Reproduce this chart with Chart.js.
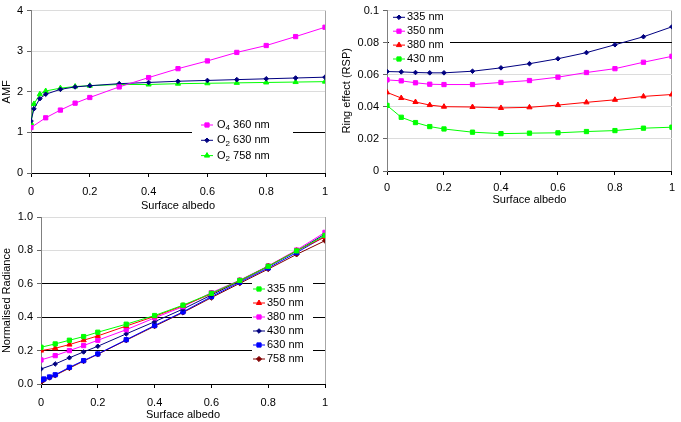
<!DOCTYPE html>
<html>
<head>
<meta charset="utf-8">
<script src="https://cdn.jsdelivr.net/npm/chart.js@4.4.0/dist/chart.umd.min.js"></script>
<style>
  html, body { margin: 0; padding: 0; background: #fff; }
  body { width: 681px; height: 422px; position: relative; overflow: hidden; }
  .box { position: absolute; }
</style>
</head>
<body>
<div class="box" style="left:0;top:0;width:340px;height:213px"><canvas id="amfChart"></canvas></div>
<div class="box" style="left:340px;top:0;width:341px;height:207px"><canvas id="ringChart"></canvas></div>
<div class="box" style="left:0;top:200px;width:340px;height:222px"><canvas id="radChart"></canvas></div>
<script>
// albedo grids used by the model runs
const albedoCoarse = [0, 0.05, 0.1, 0.15, 0.2, 0.3, 0.4, 0.5, 0.6, 0.7, 0.8, 0.9, 1];
const albedoFine = [0, 0.01, 0.03, 0.05, 0.1, 0.15, 0.2, 0.3, 0.4, 0.5, 0.6, 0.7, 0.8, 0.9, 1];

// tick labels
const xTickLabels = ['0', '0.2', '0.4', '0.6', '0.8', '1'];
const amfTickLabels = ['0', '1', '2', '3', '4'];
const ringTickLabels = ['0', '0.02', '0.04', '0.06', '0.08', '0.1'];
const radTickLabels = ['0.0', '0.2', '0.4', '0.6', '0.8', '1.0'];

// AMF
const amfLabels = ['O₄ 360 nm', 'O₂ 630 nm', 'O₂ 758 nm'];
const amfO4_360 = [1.12, 1.36, 1.55, 1.72, 1.86, 2.12, 2.35, 2.57, 2.76, 2.97, 3.14, 3.36, 3.59];
const amfO2_630 = [1.28, 1.58, 1.83, 1.94, 2.06, 2.12, 2.15, 2.20, 2.23, 2.26, 2.28, 2.30, 2.32, 2.34, 2.36];
const amfO2_758 = [1.23, 1.70, 1.94, 2.02, 2.09, 2.13, 2.15, 2.18, 2.18, 2.20, 2.21, 2.22, 2.23, 2.24, 2.25];

// Ring effect
const ringLabels = ['335 nm', '350 nm', '380 nm', '430 nm'];
const ring335 = [0.0620, 0.0618, 0.0614, 0.0612, 0.0612, 0.0622, 0.0643, 0.0669, 0.0700, 0.0738, 0.0787, 0.0837, 0.0899];
const ring350 = [0.0568, 0.0562, 0.0550, 0.0541, 0.0539, 0.0539, 0.0552, 0.0564, 0.0585, 0.0614, 0.0638, 0.0678, 0.0715];
const ring380 = [0.0490, 0.0455, 0.0430, 0.0411, 0.0401, 0.0399, 0.0393, 0.0397, 0.0411, 0.0428, 0.0444, 0.0465, 0.0477];
const ring430 = [0.0409, 0.0335, 0.0302, 0.0277, 0.0262, 0.0242, 0.0233, 0.0236, 0.0238, 0.0246, 0.0252, 0.0267, 0.0273];

// Normalised radiance
const radLabels = ['335 nm', '350 nm', '380 nm', '430 nm', '630 nm', '758 nm'];
const rad335 = [0.220, 0.240, 0.262, 0.284, 0.310, 0.358, 0.410, 0.472, 0.543, 0.620, 0.705, 0.797, 0.890];
const rad350 = [0.200, 0.214, 0.236, 0.262, 0.288, 0.347, 0.405, 0.469, 0.540, 0.619, 0.705, 0.798, 0.880];
const rad380 = [0.144, 0.170, 0.200, 0.230, 0.262, 0.325, 0.396, 0.463, 0.547, 0.622, 0.707, 0.802, 0.908];
const rad430 = [0.090, 0.120, 0.157, 0.192, 0.226, 0.300, 0.373, 0.449, 0.533, 0.617, 0.704, 0.796, 0.898];
const rad630 = [0.024, 0.030, 0.042, 0.055, 0.100, 0.140, 0.180, 0.265, 0.350, 0.432, 0.523, 0.610, 0.695, 0.787, 0.884];
const rad758 = [0.010, 0.025, 0.038, 0.052, 0.095, 0.137, 0.178, 0.262, 0.346, 0.428, 0.517, 0.603, 0.688, 0.776, 0.858];

const FONT = "'Liberation Sans', Arial, sans-serif";
Chart.defaults.font.family = FONT;
Chart.defaults.font.size = 11;
Chart.defaults.color = '#000';
Chart.defaults.animation = false;

const MAGENTA = '#ff00ff', NAVY = '#000080', GREEN = '#00ff00', RED = '#ff0000', BLUE = '#0000ff', MAROON = '#800000';

function pts(xs, ys) { return ys.map((y, i) => ({ x: xs[i], y: y })); }

function series(label, xs, ys, color, style, radius) {
    return {
        label: label, data: pts(xs, ys), showLine: true,
        borderColor: color, backgroundColor: color, borderWidth: 1,
        pointStyle: style, pointRadius: radius, pointBorderWidth: 1, pointHoverRadius: radius
    };
}

const SUBS = '₀₁₂₃₄₅₆₇₈₉';
function drawLabel(ctx, text, x, y) {
    ctx.fillStyle = '#000';
    for (const ch of text) {
        const k = SUBS.indexOf(ch);
        if (k >= 0) {
            ctx.font = '8px ' + FONT;
            ctx.fillText(String(k), x, y + 3);
            x += ctx.measureText(String(k)).width;
            ctx.font = '11px ' + FONT;
        } else {
            ctx.fillText(ch, x, y);
            x += ctx.measureText(ch).width;
        }
    }
}

// white legend box drawn over the plot, like the original
const boxLegend = {
    id: 'boxLegend',
    afterDraw(chart, args, o) {
        const ctx = chart.ctx;
        ctx.save();
        ctx.fillStyle = '#fff';
        ctx.fillRect(o.left, o.top, o.width, o.height);
        ctx.font = '11px ' + FONT;
        ctx.textBaseline = 'middle';
        chart.data.datasets.forEach((ds, i) => {
            const y = o.firstRow + i * o.rowGap;
            ctx.strokeStyle = ds.borderColor;
            ctx.lineWidth = 1;
            ctx.beginPath(); ctx.moveTo(o.lineX, y); ctx.lineTo(o.lineX + 12, y); ctx.stroke();
            ctx.fillStyle = ds.backgroundColor;
            Chart.helpers.drawPoint(ctx, { pointStyle: ds.pointStyle, radius: ds.pointRadius, borderWidth: 1, rotation: 0 }, o.lineX + 6, y);
            drawLabel(ctx, ds.label, o.textX, y);
        });
        ctx.restore();
    }
};

function gridColor(blackVals) {
    return c => blackVals.some(v => Math.abs(v - c.tick.value) < 1e-9) ? '#000' : '#dcdcdc';
}

function xScale(height, pad, titlePad) {
    return {
        type: 'linear', min: 0, max: 1,
        afterFit: s => { s.height = height; },
        ticks: { stepSize: 0.2, padding: pad, maxRotation: 0, callback: (v, i) => xTickLabels[i] },
        grid: { color: c => c.tick.value === 1 ? '#a6a6a6' : 'rgba(0,0,0,0)', tickColor: '#000', tickLength: 4 },
        border: { color: '#000' },
        title: { display: true, text: 'Surface albedo', padding: { top: 0, bottom: titlePad }, font: { size: 11 } }
    };
}

function yScale(width, max, step, labels, title, blackVals) {
    return {
        min: 0, max: max,
        afterFit: s => { s.width = width; },
        ticks: { stepSize: step, padding: 4, callback: (v, i) => labels[i] },
        grid: { color: gridColor(blackVals), tickColor: '#666', tickLength: 4 },
        border: { color: '#808080' },
        title: { display: true, text: title, padding: 0, font: { size: 11 } }
    };
}

new Chart(document.getElementById('amfChart'), {
    type: 'scatter',
    data: {
        datasets: [
            series(amfLabels[0], albedoCoarse, amfO4_360, MAGENTA, 'rect', 3),
            series(amfLabels[1], albedoFine, amfO2_630, NAVY, 'rectRot', 2.3),
            series(amfLabels[2], albedoFine, amfO2_758, GREEN, 'triangle', 3)
        ]
    },
    options: {
        responsive: true, maintainAspectRatio: false,
        layout: { padding: { top: 8, right: 15, left: 0, bottom: 0 } },
        plugins: {
            legend: { display: false }, tooltip: { enabled: false },
            boxLegend: { left: 192, top: 115, width: 101, height: 50, firstRow: 125, rowGap: 15.3, lineX: 201, textX: 217 }
        },
        scales: {
            x: xScale(40, 8, 0),
            y: yScale(31, 4, 1, amfTickLabels, 'AMF', [1])
        }
    },
    plugins: [boxLegend]
});

new Chart(document.getElementById('ringChart'), {
    type: 'scatter',
    data: {
        datasets: [
            series(ringLabels[0], albedoCoarse, ring335, NAVY, 'rectRot', 2.3),
            series(ringLabels[1], albedoCoarse, ring350, MAGENTA, 'rect', 3),
            series(ringLabels[2], albedoCoarse, ring380, RED, 'triangle', 3),
            series(ringLabels[3], albedoCoarse, ring430, GREEN, 'rect', 3)
        ]
    },
    options: {
        responsive: true, maintainAspectRatio: false,
        layout: { padding: { top: 9, right: 8, left: 0, bottom: 0 } },
        plugins: {
            legend: { display: false }, tooltip: { enabled: false },
            boxLegend: { left: 49, top: 11, width: 61, height: 56, firstRow: 17.3, rowGap: 13.9, lineX: 53, textX: 67 }
        },
        scales: {
            x: xScale(36, 6, 0),
            y: yScale(47, 0.1, 0.02, ringTickLabels, 'Ring effect (RSP)', [0.08])
        }
    },
    plugins: [boxLegend]
});

new Chart(document.getElementById('radChart'), {
    type: 'scatter',
    data: {
        datasets: [
            series(radLabels[0], albedoCoarse, rad335, GREEN, 'rect', 3),
            series(radLabels[1], albedoCoarse, rad350, RED, 'triangle', 3),
            series(radLabels[2], albedoCoarse, rad380, MAGENTA, 'rect', 3),
            series(radLabels[3], albedoCoarse, rad430, NAVY, 'rectRot', 2.3),
            series(radLabels[4], albedoFine, rad630, BLUE, 'rect', 3),
            series(radLabels[5], albedoFine, rad758, MAROON, 'rectRot', 2.6)
        ]
    },
    options: {
        responsive: true, maintainAspectRatio: false,
        layout: { padding: { top: 17, right: 15, left: 0, bottom: 0 } },
        plugins: {
            legend: { display: false }, tooltip: { enabled: false },
            boxLegend: { left: 252, top: 81, width: 61, height: 87, firstRow: 89, rowGap: 14, lineX: 253, textX: 267 }
        },
        scales: {
            x: xScale(38, 8, 0),
            y: yScale(41, 1, 0.2, radTickLabels, 'Normalised Radiance', [0.2, 0.4, 0.6])
        }
    },
    plugins: [boxLegend]
});
</script>
</body>
</html>
